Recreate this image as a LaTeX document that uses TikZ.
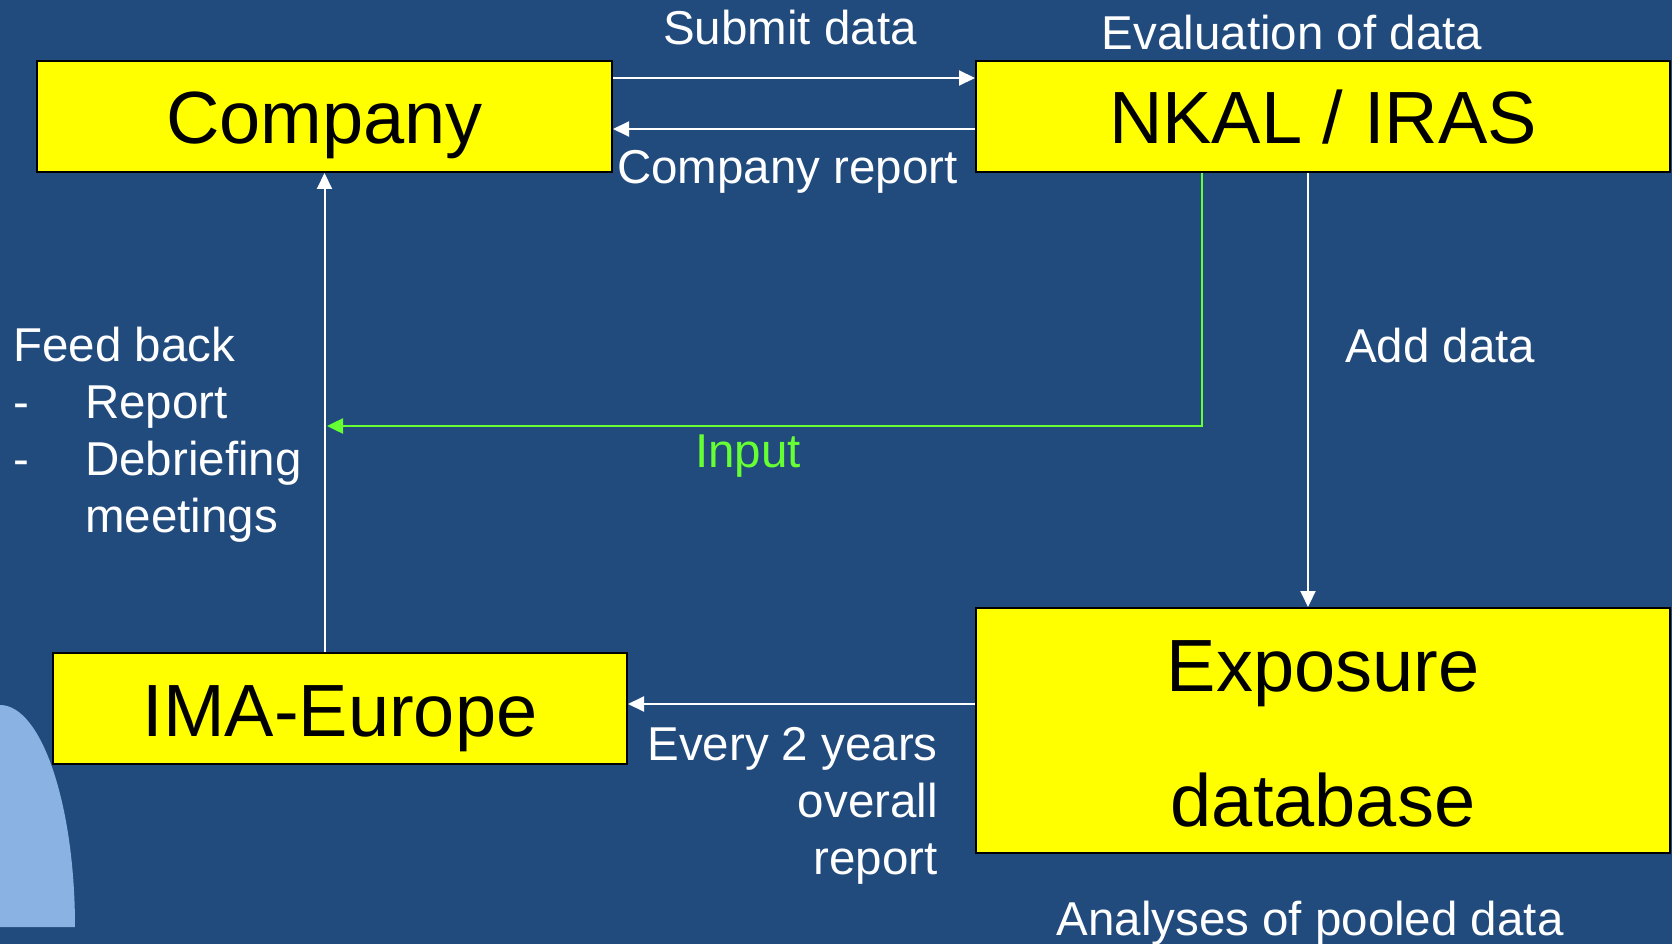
\documentclass[tikz,border=0pt]{standalone}
\usepackage{fontspec}
\setmainfont{Liberation Sans}
\usetikzlibrary{arrows.meta}

\definecolor{slidebg}{RGB}{33,74,125}
\definecolor{boxyellow}{RGB}{255,255,0}
\definecolor{inputgreen}{RGB}{102,255,51}
\definecolor{decoblue}{RGB}{138,179,228}

\begin{document}
\begin{tikzpicture}
[x=1pt,y=-1pt,%
  box/.style={draw=black,line width=2pt,fill=boxyellow,inner sep=0pt,%
    font=\fontsize{74}{74}\selectfont,text height=55pt,text depth=0pt},%
  lbl/.style={text=white,inner sep=0pt,font=\fontsize{47.5}{57}\selectfont},%
  flow/.style={white,line width=2pt,-{Triangle[length=16pt,width=15pt]}}]
\useasboundingbox (0,0) rectangle (1672,944);
\fill[slidebg] (0,0) rectangle (1672,944);
\fill[decoblue] (0,705) arc[start angle=90,end angle=0,x radius=75pt,y radius=222pt]
  -- (0,927) -- cycle;
% boxes
\node[box,minimum width=575pt,minimum height=111pt] (company) at (324.5,116.5) {Company};
\node[box,minimum width=694pt,minimum height=111pt] (nkal) at (1323,116.5) {NKAL / IRAS};
\node[box,minimum width=574pt,minimum height=111pt] (ima) at (340,708.5) {IMA-Europe};
\node[box,minimum width=694pt,minimum height=245pt,align=center,
  font=\fontsize{74}{135}\selectfont,text height=192pt] (expo) at (1323,730.5) {Exposure\\database};
% labels
\node[lbl,anchor=base west] (submit) at (663,45) {Submit data};
\node[lbl,anchor=base] (evaluation) at (1292,50) {Evaluation of data};
\node[lbl,anchor=base west] (creport) at (617,183) {Company report};
\node[lbl,anchor=base west,align=left] (feedback) at (13,532)
  {Feed back\\\makebox[72pt][l]{-}Report\\\makebox[72pt][l]{-}Debriefing\\\hspace*{72pt}meetings};
\node[lbl,anchor=base west] (adddata) at (1345,362) {Add data};
\node[lbl,anchor=base west,text=inputgreen] (input) at (695,467) {Input};
\node[lbl,anchor=base east,align=right] (every) at (938,874) {Every 2 years\\overall\\report};
\node[lbl,anchor=base] (analyses) at (1310,935) {Analyses of pooled data};
% connectors
\coordinate (feedin) at (327,426);
\draw[flow] ([yshift=38.5pt]company.east) -- ([yshift=38.5pt]nkal.west);
\draw[flow] ([yshift=-12.5pt]nkal.west) -- ([yshift=-12.5pt]company.east);
\draw[flow] (ima.north -| company.south) -- (company.south);
\draw[flow] ([xshift=-15pt]nkal.south) -- ([xshift=-15pt]expo.north);
\draw[flow] ([yshift=4.5pt]ima.east -| expo.west) -- ([yshift=4.5pt]ima.east);
\draw[inputgreen,line width=2.5pt,-{Triangle[length=16pt,width=15pt]}]
  ([xshift=-121pt]nkal.south) |- (feedin);
\end{tikzpicture}
\end{document}
